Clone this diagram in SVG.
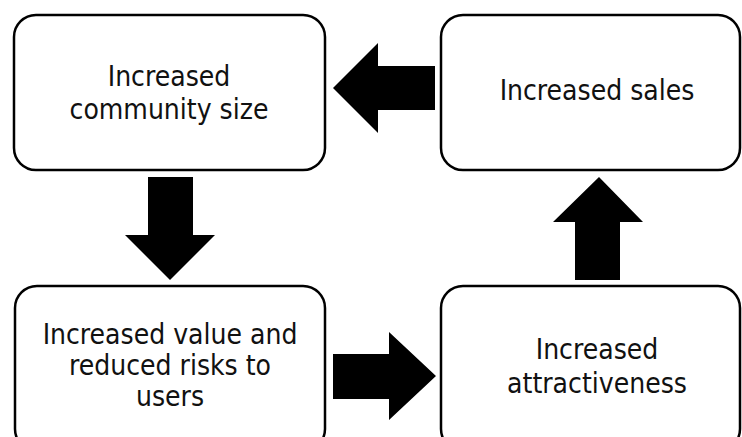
<svg xmlns="http://www.w3.org/2000/svg" width="742" height="437" viewBox="0 0 742 437">
<style>
.box{fill:#fff;stroke:#000;stroke-width:2.5}
.t{font-family:"DejaVu Sans Condensed","DejaVu Sans","Liberation Sans",sans-serif;font-stretch:condensed;font-size:28px;fill:#111;text-anchor:middle}
.arr{fill:#000}
</style>
<rect width="742" height="437" fill="#fff"/>
<g id="n1"><rect class="box" x="14" y="15" width="311" height="155" rx="22"/>
<text class="t" x="169" y="86">Increased</text><text class="t" x="169" y="119">community size</text></g>
<g id="n2"><rect class="box" x="441" y="15" width="299" height="155" rx="22"/>
<text class="t" x="597" y="100">Increased sales</text></g>
<g id="n3"><rect class="box" x="15" y="286" width="310" height="165" rx="22"/>
<text class="t" x="170" y="344">Increased value and</text><text class="t" x="170" y="375">reduced risks to</text><text class="t" x="170" y="406">users</text></g>
<g id="n4"><rect class="box" x="441" y="286" width="299" height="165" rx="22"/>
<text class="t" x="597" y="359">Increased</text><text class="t" x="597" y="393">attractiveness</text></g>
<g id="connectors">
<polygon class="arr" points="435,66 378,66 378,43 333,88 378,133 378,110 435,110"/>
<polygon class="arr" points="148,177 193,177 193,235 215,235 170,280 125,235 148,235"/>
<polygon class="arr" points="333,354 389,354 389,332 436,376 389,420 389,399 333,399"/>
<polygon class="arr" points="575,280 620,280 620,222 643,222 599,177 553,222 575,222"/>
</g>
</svg>
